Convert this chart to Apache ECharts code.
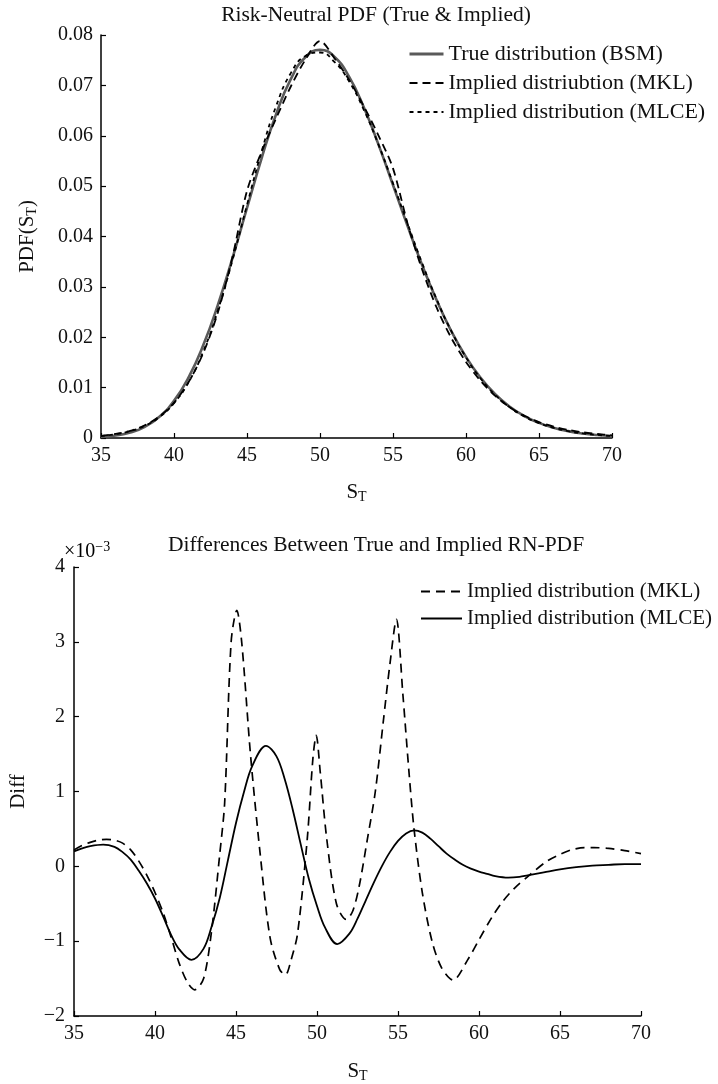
<!DOCTYPE html>
<html>
<head>
<meta charset="utf-8">
<script src="https://cdn.jsdelivr.net/npm/echarts@6/dist/echarts.min.js"></script>
<style>
html,body{margin:0;padding:0;background:#fff;}
#chart{width:718px;height:1084px;}
</style>
</head>
<body>
<div id="chart"></div>
<script>
// ---------- Top chart: Risk-neutral PDF ----------
const pdfX = [35,36,37,38,39,40,41,42,43,44,45,46,47,48,49,50,51,52,53,54,55,56,57,58,59,60,61,62,63,64,65,66,67,68,69,70];
const pdfBSM = [0.00019,0.00048,0.00108,0.00222,0.00420,0.00737,0.01204,0.01839,0.02638,0.03567,0.04566,0.05553,0.06433,0.07123,0.07559,0.07705,0.07564,0.07167,0.06566,0.05829,0.05022,0.04206,0.03431,0.02729,0.02118,0.01609,0.01195,0.00870,0.00622,0.00436,0.00300,0.00204,0.00136,0.00089,0.00058,0.00037];
const pdfMKL = [0.00041,0.00080,0.00143,0.00252,0.00428,0.00697,0.01109,0.01684,0.02488,0.03587,0.04906,0.05683,0.06348,0.06978,0.07509,0.07880,0.07534,0.07107,0.06586,0.06009,0.05352,0.04254,0.03341,0.02581,0.01983,0.01509,0.01135,0.00837,0.00609,0.00441,0.00316,0.00227,0.00161,0.00113,0.00079,0.00054];
const pdfMLCE = [0.00039,0.00075,0.00137,0.00242,0.00415,0.00692,0.01109,0.01715,0.02528,0.03525,0.04626,0.05688,0.06593,0.07243,0.07584,0.07653,0.07462,0.07075,0.06516,0.05829,0.05055,0.04254,0.03469,0.02747,0.02120,0.01601,0.01181,0.00855,0.00609,0.00427,0.00295,0.00202,0.00136,0.00091,0.00061,0.00040];

// ---------- Bottom chart: differences (x 10^-3) ----------
const diffMKLX = [35,35.5,36,36.5,37,37.5,38,38.5,39,39.5,40,40.5,41,41.5,42,42.45,43,43.5,44,44.3,44.7,45.05,45.35,45.9,46.5,47.1,47.7,48.05,48.4,48.8,49.4,49.75,49.95,50.2,50.6,51.2,51.8,52.2,52.6,53.1,53.6,54.1,54.5,54.9,55.3,55.7,56,56.5,57.1,57.7,58.4,59.3,60,60.8,61.5,62.2,63.1,64.2,65,65.7,66.5,67.1,68,69,70];
const diffMKL = [0.22,0.28,0.32,0.35,0.36,0.35,0.31,0.22,0.07,-0.12,-0.35,-0.62,-0.95,-1.30,-1.55,-1.65,-1.50,-0.85,0.17,0.85,3.00,3.42,3.00,1.48,0.15,-0.95,-1.38,-1.45,-1.25,-0.90,0.37,1.45,1.75,1.26,0.37,-0.50,-0.71,-0.60,-0.27,0.35,1.00,1.95,2.70,3.30,2.30,1.20,0.48,-0.35,-1.00,-1.36,-1.52,-1.25,-0.98,-0.68,-0.46,-0.29,-0.12,0.07,0.16,0.22,0.25,0.25,0.24,0.21,0.17];
const diffMLCEX = [35,35.5,36,36.8,37.5,38,38.5,39,39.5,40,40.5,41,41.5,42.25,43,43.5,44,44.5,45,45.5,46,46.85,47.5,48,48.5,49,49.5,50,50.5,51.25,52,52.5,53,53.5,54,54.5,55,55.5,56,56.5,57,57.5,58,58.5,59,59.5,60,60.5,61,61.8,62.5,63,64,65,66,67,68,69,70];
const diffMLCE = [0.20,0.24,0.27,0.29,0.26,0.19,0.09,-0.06,-0.23,-0.43,-0.67,-0.92,-1.11,-1.25,-1.10,-0.80,-0.42,0.08,0.58,1.00,1.34,1.61,1.47,1.17,0.76,0.29,-0.17,-0.53,-0.82,-1.04,-0.90,-0.70,-0.46,-0.22,0.00,0.19,0.34,0.44,0.48,0.45,0.37,0.27,0.17,0.09,0.02,-0.03,-0.07,-0.10,-0.13,-0.15,-0.14,-0.12,-0.08,-0.04,-0.01,0.01,0.02,0.03,0.03];

const FONT = 'Liberation Serif';
const pair = (xs, ys) => xs.map((x, i) => [x, ys[i]]);
const minus = v => (v < 0 ? '\u2212' + Math.abs(v) : String(v));

const axisCommon = {
  axisLine: {show: true, onZero: false, lineStyle: {color: '#000', width: 1.5}},
  axisTick: {show: true, inside: true, length: 5, lineStyle: {color: '#000', width: 1.2}},
  splitLine: {show: false}
};
const subRich = {
  a: {fontFamily: FONT, fontSize: 21, color: '#111'},
  b: {fontFamily: FONT, fontSize: 14, color: '#111', padding: [10, 0, 0, 0]}
};

const chart = echarts.init(document.getElementById('chart'), null, {renderer: 'canvas'});
chart.setOption({
  backgroundColor: '#fff',
  animation: false,
  grid: [
    {left: 101, right: 106, top: 35, height: 403},
    {left: 68, right: 77, top: 567, height: 451}
  ],
  xAxis: [
    Object.assign({}, axisCommon, {
      gridIndex: 0, type: 'value', min: 35, max: 70, interval: 5,
      axisLabel: {margin: 8, fontFamily: FONT, fontSize: 20, color: '#111'},
      name: '{a|S}{b|T}', nameLocation: 'middle', nameGap: 42,
      nameTextStyle: {rich: subRich}
    }),
    Object.assign({}, axisCommon, {
      gridIndex: 1, type: 'value', min: 35, max: 70, interval: 5,
      axisLabel: {margin: 8, fontFamily: FONT, fontSize: 20, color: '#111'},
      name: '{a|S}{b|T}', nameLocation: 'middle', nameGap: 43,
      nameTextStyle: {rich: subRich}
    })
  ],
  yAxis: [
    Object.assign({}, axisCommon, {
      gridIndex: 0, type: 'value', min: 0, max: 0.08, interval: 0.01,
      axisLabel: {margin: 8, fontFamily: FONT, fontSize: 20, color: '#111'},
      name: '{a|PDF(S}{b|T}{a|)}', nameLocation: 'middle', nameGap: 62, nameRotate: 90,
      nameTextStyle: {rich: subRich}
    }),
    Object.assign({}, axisCommon, {
      gridIndex: 1, type: 'value', min: -2, max: 4, interval: 1,
      axisLabel: {margin: 9, fontFamily: FONT, fontSize: 20, color: '#111', formatter: minus},
      name: 'Diff', nameLocation: 'middle', nameGap: 45, nameRotate: 90,
      nameTextStyle: {fontFamily: FONT, fontSize: 21, color: '#111'}
    })
  ],
  legend: [
    {
      left: 403, top: 38, orient: 'vertical', itemWidth: 34, itemHeight: 14, itemGap: 7,
      selectedMode: false, itemStyle: {opacity: 0, borderWidth: 0},
      textStyle: {fontFamily: FONT, fontSize: 22, color: '#111', lineHeight: 20},
      data: [
        {name: 'True distribution (BSM)', lineStyle: {width: 3}},
        'Implied distriubtion (MKL)',
        'Implied distribution (MLCE)'
      ]
    },
    {
      left: 415, top: 576, orient: 'vertical', itemWidth: 41, itemHeight: 14, itemGap: 6,
      selectedMode: false, itemStyle: {opacity: 0, borderWidth: 0},
      textStyle: {fontFamily: FONT, fontSize: 21, color: '#111', lineHeight: 20},
      data: ['Implied distribution (MKL)', 'Implied distribution (MLCE) ']
    }
  ],
  graphic: [
    {type: 'text', x: 376, y: 15, style: {text: 'Risk-Neutral PDF (True & Implied)', textAlign: 'center', textVerticalAlign: 'middle', fontFamily: FONT, fontSize: 21.5, fill: '#111'}},
    {type: 'text', x: 376, y: 545, style: {text: 'Differences Between True and Implied RN-PDF', textAlign: 'center', textVerticalAlign: 'middle', fontFamily: FONT, fontSize: 21.5, fill: '#111'}},
    {type: 'text', x: 64, y: 552, style: {
      text: '{a|\u00d710}{b|\u22123}', textVerticalAlign: 'middle',
      rich: {a: {fontFamily: FONT, fontSize: 20, color: '#111'}, b: {fontFamily: FONT, fontSize: 14, color: '#111', padding: [0, 0, 10, 0]}}
    }}
  ],
  series: [
    {name: 'True distribution (BSM)', type: 'line', xAxisIndex: 0, yAxisIndex: 0, smooth: true, symbol: 'none',
     data: pair(pdfX, pdfBSM), lineStyle: {color: '#5a5a5a', width: 2.6}, itemStyle: {color: '#5a5a5a'}},
    {name: 'Implied distriubtion (MKL)', type: 'line', xAxisIndex: 0, yAxisIndex: 0, smooth: 0.3, symbol: 'none',
     data: pair(pdfX, pdfMKL), lineStyle: {color: '#000', width: 1.8, type: [8, 5]}, itemStyle: {color: '#000'}},
    {name: 'Implied distribution (MLCE)', type: 'line', xAxisIndex: 0, yAxisIndex: 0, smooth: true, symbol: 'none',
     data: pair(pdfX, pdfMLCE), lineStyle: {color: '#000', width: 1.8, type: [4, 4]}, itemStyle: {color: '#000'}},
    {name: 'Implied distribution (MKL)', type: 'line', xAxisIndex: 1, yAxisIndex: 1, smooth: 0.3, symbol: 'none',
     data: pair(diffMKLX, diffMKL), lineStyle: {color: '#000', width: 1.7, type: [9, 6]}, itemStyle: {color: '#000'}},
    {name: 'Implied distribution (MLCE) ', type: 'line', xAxisIndex: 1, yAxisIndex: 1, smooth: 0.35, symbol: 'none',
     data: pair(diffMLCEX, diffMLCE), lineStyle: {color: '#000', width: 1.8}, itemStyle: {color: '#000'}}
  ]
});
</script>
</body>
</html>
